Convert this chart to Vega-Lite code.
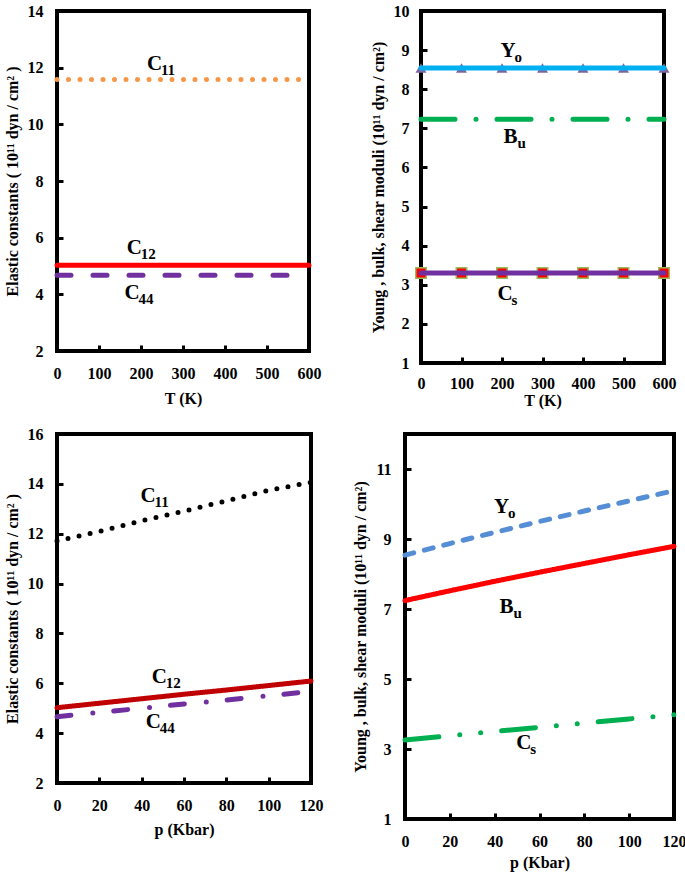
{
  "$schema": "https://vega.github.io/schema/vega-lite/v6.json",
  "padding": {"left": 2, "top": -5, "right": 2, "bottom": 0},
  "background": "white",
  "resolve": {"scale": {"x": "independent", "y": "independent", "color": "independent", "strokeDash": "independent"}, "axis": {"x": "independent", "y": "independent"}},
  "datasets": {
    "p1": [
      {"T": 0, "v": 11.58, "s": "C11"}, {"T": 100, "v": 11.58, "s": "C11"}, {"T": 200, "v": 11.58, "s": "C11"}, {"T": 300, "v": 11.58, "s": "C11"}, {"T": 400, "v": 11.58, "s": "C11"}, {"T": 500, "v": 11.58, "s": "C11"}, {"T": 600, "v": 11.58, "s": "C11"},
      {"T": 0, "v": 5.03, "s": "C12"}, {"T": 100, "v": 5.03, "s": "C12"}, {"T": 200, "v": 5.03, "s": "C12"}, {"T": 300, "v": 5.03, "s": "C12"}, {"T": 400, "v": 5.03, "s": "C12"}, {"T": 500, "v": 5.03, "s": "C12"}, {"T": 600, "v": 5.03, "s": "C12"},
      {"T": 0, "v": 4.67, "s": "C44"}, {"T": 100, "v": 4.67, "s": "C44"}, {"T": 200, "v": 4.67, "s": "C44"}, {"T": 300, "v": 4.67, "s": "C44"}, {"T": 400, "v": 4.67, "s": "C44"}, {"T": 500, "v": 4.67, "s": "C44"}, {"T": 600, "v": 4.67, "s": "C44"}
    ],
    "l1": [
      {"T": 214, "v": 11.92, "main": "C", "sub": "11"},
      {"T": 166, "v": 5.41, "main": "C", "sub": "12"},
      {"T": 161, "v": 3.82, "main": "C", "sub": "44"}
    ],
    "p2": [
      {"K": 0, "m": 8.54, "s": "Yo"}, {"K": 100, "m": 8.54, "s": "Yo"}, {"K": 200, "m": 8.54, "s": "Yo"}, {"K": 300, "m": 8.54, "s": "Yo"}, {"K": 400, "m": 8.54, "s": "Yo"}, {"K": 500, "m": 8.54, "s": "Yo"}, {"K": 600, "m": 8.54, "s": "Yo"},
      {"K": 0, "m": 7.23, "s": "Bu"}, {"K": 100, "m": 7.23, "s": "Bu"}, {"K": 200, "m": 7.23, "s": "Bu"}, {"K": 300, "m": 7.23, "s": "Bu"}, {"K": 400, "m": 7.23, "s": "Bu"}, {"K": 500, "m": 7.23, "s": "Bu"}, {"K": 600, "m": 7.23, "s": "Bu"},
      {"K": 0, "m": 3.3, "s": "Cs"}, {"K": 100, "m": 3.3, "s": "Cs"}, {"K": 200, "m": 3.3, "s": "Cs"}, {"K": 300, "m": 3.3, "s": "Cs"}, {"K": 400, "m": 3.3, "s": "Cs"}, {"K": 500, "m": 3.3, "s": "Cs"}, {"K": 600, "m": 3.3, "s": "Cs"}
    ],
    "l2": [
      {"K": 196, "m": 8.83, "main": "Y", "sub": "o"},
      {"K": 204, "m": 6.62, "main": "B", "sub": "u"},
      {"K": 189, "m": 2.6, "main": "C", "sub": "s"}
    ],
    "p3": [
      {"p": 0, "v": 11.71, "s": "C11"}, {"p": 20, "v": 12.09, "s": "C11"}, {"p": 40, "v": 12.52, "s": "C11"}, {"p": 60, "v": 12.9, "s": "C11"}, {"p": 80, "v": 13.32, "s": "C11"}, {"p": 100, "v": 13.74, "s": "C11"}, {"p": 120, "v": 14.06, "s": "C11"},
      {"p": 0, "v": 5.02, "s": "C12"}, {"p": 20, "v": 5.2, "s": "C12"}, {"p": 40, "v": 5.38, "s": "C12"}, {"p": 60, "v": 5.56, "s": "C12"}, {"p": 80, "v": 5.73, "s": "C12"}, {"p": 100, "v": 5.91, "s": "C12"}, {"p": 120, "v": 6.09, "s": "C12"},
      {"p": 0, "v": 4.66, "s": "C44"}, {"p": 20, "v": 4.83, "s": "C44"}, {"p": 40, "v": 5.0, "s": "C44"}, {"p": 60, "v": 5.17, "s": "C44"}, {"p": 80, "v": 5.33, "s": "C44"}, {"p": 100, "v": 5.5, "s": "C44"}, {"p": 120, "v": 5.67, "s": "C44"}
    ],
    "l3": [
      {"p": 39.5, "v": 13.29, "main": "C", "sub": "11"},
      {"p": 44.8, "v": 6.02, "main": "C", "sub": "12"},
      {"p": 41.9, "v": 4.22, "main": "C", "sub": "44"}
    ],
    "p4": [
      {"P": 0, "u": 8.54, "s": "Yo"}, {"P": 20, "u": 8.87, "s": "Yo"}, {"P": 40, "u": 9.19, "s": "Yo"}, {"P": 60, "u": 9.5, "s": "Yo"}, {"P": 80, "u": 9.8, "s": "Yo"}, {"P": 100, "u": 10.09, "s": "Yo"}, {"P": 120, "u": 10.38, "s": "Yo"},
      {"P": 0, "u": 7.24, "s": "Bu"}, {"P": 20, "u": 7.52, "s": "Bu"}, {"P": 40, "u": 7.79, "s": "Bu"}, {"P": 60, "u": 8.05, "s": "Bu"}, {"P": 80, "u": 8.3, "s": "Bu"}, {"P": 100, "u": 8.55, "s": "Bu"}, {"P": 120, "u": 8.79, "s": "Bu"},
      {"P": 0, "u": 3.26, "s": "Cs"}, {"P": 20, "u": 3.38, "s": "Cs"}, {"P": 40, "u": 3.5, "s": "Cs"}, {"P": 60, "u": 3.62, "s": "Cs"}, {"P": 80, "u": 3.74, "s": "Cs"}, {"P": 100, "u": 3.86, "s": "Cs"}, {"P": 120, "u": 3.98, "s": "Cs"}
    ],
    "l4": [
      {"P": 39.7, "u": 9.74, "main": "Y", "sub": "o"},
      {"P": 42.2, "u": 6.89, "main": "B", "sub": "u"},
      {"P": 49.6, "u": 2.99, "main": "C", "sub": "s"}
    ]
  },
  "vconcat": [
    {
      "resolve": {"scale": {"x": "independent", "y": "independent", "color": "independent", "strokeDash": "independent"}, "axis": {"x": "independent", "y": "independent"}},
      "hconcat": [
        {
          "width": 252, "height": 340,
          "title": {"text": " ", "fontSize": 4, "offset": 2},
          "layer": [
            {
              "data": {"name": "p1"},
              "mark": {"type": "line", "strokeCap": "round", "strokeWidth": 5},
              "encoding": {
                "x": {"field": "T", "type": "quantitative", "scale": {"domain": [0, 600], "nice": false}, "axis": {"values": [0, 100, 200, 300, 400, 500, 600], "title": "T (K)", "titlePadding": 9, "labelFlush": false, "labelOverlap": false}},
                "y": {"field": "v", "type": "quantitative", "scale": {"domain": [2, 14], "nice": false, "zero": false}, "axis": {"values": [2, 4, 6, 8, 10, 12, 14], "title": "Elastic constants ( 10¹¹ dyn / cm² )", "titlePadding": 7, "labelFlush": false, "labelOverlap": false}},
                "color": {"field": "s", "type": "nominal", "scale": {"domain": ["C11", "C12", "C44"], "range": ["#F79646", "#FF0000", "#7030A0"]}, "legend": null},
                "strokeDash": {"field": "s", "type": "nominal", "scale": {"domain": ["C11", "C12", "C44"], "range": [[0, 11.5], [1, 0], [14, 22]]}, "legend": null}
              }
            },
            {
              "data": {"name": "l1"},
              "mark": {"type": "text", "align": "left", "baseline": "alphabetic", "fontSize": 21, "fontWeight": "bold", "font": "Times New Roman, Liberation Serif, serif", "color": "black"},
              "encoding": {"x": {"field": "T", "type": "quantitative"}, "y": {"field": "v", "type": "quantitative"}, "text": {"field": "main"}}
            },
            {
              "data": {"name": "l1"},
              "mark": {"type": "text", "align": "left", "baseline": "alphabetic", "fontSize": 15, "fontWeight": "bold", "font": "Times New Roman, Liberation Serif, serif", "color": "black", "dx": 14, "dy": 5},
              "encoding": {"x": {"field": "T", "type": "quantitative"}, "y": {"field": "v", "type": "quantitative"}, "text": {"field": "sub"}}
            }
          ]
        },
        {
          "width": 243, "height": 352,
          "layer": [
            {
              "data": {"name": "p2"},
              "transform": [{"filter": "datum.s === 'Yo'"}],
              "mark": {"type": "point", "shape": "triangle-up", "filled": true, "size": 120, "color": "#8064A2", "opacity": 1},
              "encoding": {
                "x": {"field": "K", "type": "quantitative", "scale": {"domain": [0, 600], "nice": false}, "axis": {"values": [0, 100, 200, 300, 400, 500, 600], "title": "T (K)", "titlePadding": 1, "labelPadding": 18, "labelFlush": false, "labelOverlap": false}},
                "y": {"field": "m", "type": "quantitative", "scale": {"domain": [1, 10], "nice": false, "zero": false}, "axis": {"values": [1, 2, 3, 4, 5, 6, 7, 8, 9, 10], "tickCount": 10, "title": "Young , bulk, shear moduli (10¹¹ dyn / cm²)", "titlePadding": 7, "labelPadding": 18, "labelFlush": false, "labelOverlap": false}}
              }
            },
            {
              "data": {"name": "p2"},
              "transform": [{"filter": "datum.s === 'Cs'"}],
              "mark": {"type": "point", "shape": "square", "filled": true, "size": 110, "fill": "#FF0000", "stroke": "#9BBB59", "strokeWidth": 1.5, "opacity": 1},
              "encoding": {"x": {"field": "K", "type": "quantitative"}, "y": {"field": "m", "type": "quantitative"}}
            },
            {
              "data": {"name": "p2"},
              "mark": {"type": "line", "strokeCap": "round", "strokeWidth": 5},
              "encoding": {
                "x": {"field": "K", "type": "quantitative"},
                "y": {"field": "m", "type": "quantitative"},
                "color": {"field": "s", "type": "nominal", "scale": {"domain": ["Yo", "Bu", "Cs"], "range": ["#00B0F0", "#00B050", "#7030A0"]}, "legend": null},
                "strokeDash": {"field": "s", "type": "nominal", "scale": {"domain": ["Yo", "Bu", "Cs"], "range": [[1, 0], [34, 21, 0, 21], [1, 0]]}, "legend": null}
              }
            },
            {
              "data": {"name": "l2"},
              "mark": {"type": "text", "align": "left", "baseline": "alphabetic", "fontSize": 21, "fontWeight": "bold", "font": "Times New Roman, Liberation Serif, serif", "color": "black"},
              "encoding": {"x": {"field": "K", "type": "quantitative"}, "y": {"field": "m", "type": "quantitative"}, "text": {"field": "main"}}
            },
            {
              "data": {"name": "l2"},
              "mark": {"type": "text", "align": "left", "baseline": "alphabetic", "fontSize": 15, "fontWeight": "bold", "font": "Times New Roman, Liberation Serif, serif", "color": "black", "dx": 14, "dy": 5},
              "encoding": {"x": {"field": "K", "type": "quantitative"}, "y": {"field": "m", "type": "quantitative"}, "text": {"field": "sub"}}
            }
          ]
        }
      ],
      "spacing": 45
    },
    {
      "resolve": {"scale": {"x": "independent", "y": "independent", "color": "independent", "strokeDash": "independent"}, "axis": {"x": "independent", "y": "independent"}},
      "hconcat": [
        {
          "width": 254, "height": 349,
          "layer": [
            {
              "data": {"name": "p3"},
              "mark": {"type": "line", "strokeCap": "round", "strokeWidth": 5},
              "encoding": {
                "x": {"field": "p", "type": "quantitative", "scale": {"domain": [0, 120], "nice": false}, "axis": {"values": [0, 20, 40, 60, 80, 100, 120], "title": "p (Kbar)", "titlePadding": 8, "labelFlush": false, "labelOverlap": false}},
                "y": {"field": "v", "type": "quantitative", "scale": {"domain": [2, 16], "nice": false, "zero": false}, "axis": {"values": [2, 4, 6, 8, 10, 12, 14, 16], "title": "Elastic constants ( 10¹¹ dyn / cm² )", "titlePadding": 7, "labelFlush": false, "labelOverlap": false}},
                "color": {"field": "s", "type": "nominal", "scale": {"domain": ["C11", "C12", "C44"], "range": ["#000000", "#C00000", "#7030A0"]}, "legend": null},
                "strokeDash": {"field": "s", "type": "nominal", "scale": {"domain": ["C11", "C12", "C44"], "range": [[0, 11.3], [1, 0], [14, 22, 0, 21]]}, "legend": null}
              }
            },
            {
              "data": {"name": "l3"},
              "mark": {"type": "text", "align": "left", "baseline": "alphabetic", "fontSize": 21, "fontWeight": "bold", "font": "Times New Roman, Liberation Serif, serif", "color": "black"},
              "encoding": {"x": {"field": "p", "type": "quantitative"}, "y": {"field": "v", "type": "quantitative"}, "text": {"field": "main"}}
            },
            {
              "data": {"name": "l3"},
              "mark": {"type": "text", "align": "left", "baseline": "alphabetic", "fontSize": 15, "fontWeight": "bold", "font": "Times New Roman, Liberation Serif, serif", "color": "black", "dx": 14, "dy": 5},
              "encoding": {"x": {"field": "p", "type": "quantitative"}, "y": {"field": "v", "type": "quantitative"}, "text": {"field": "sub"}}
            }
          ]
        },
        {
          "width": 269, "height": 385,
          "title": {"text": " ", "fontSize": 10, "offset": 2},
          "layer": [
            {
              "data": {"name": "p4"},
              "mark": {"type": "line", "strokeCap": "round", "strokeWidth": 5},
              "encoding": {
                "x": {"field": "P", "type": "quantitative", "scale": {"domain": [0, 120], "nice": false}, "axis": {"values": [0, 20, 40, 60, 80, 100, 120], "title": "p (Kbar)", "titlePadding": 5, "labelFlush": false, "labelOverlap": false}},
                "y": {"field": "u", "type": "quantitative", "scale": {"domain": [1, 12], "nice": false, "zero": false}, "axis": {"values": [1, 3, 5, 7, 9, 11], "title": "Young , bulk, shear moduli (10¹¹ dyn / cm²)", "titlePadding": 7, "labelFlush": false, "labelOverlap": false}},
                "color": {"field": "s", "type": "nominal", "scale": {"domain": ["Yo", "Bu", "Cs"], "range": ["#558ED5", "#FF0000", "#00B050"]}, "legend": null},
                "strokeDash": {"field": "s", "type": "nominal", "scale": {"domain": ["Yo", "Bu", "Cs"], "range": [[9, 11], [1, 0], [34, 21, 0, 21, 0, 21]]}, "legend": null}
              }
            },
            {
              "data": {"name": "l4"},
              "mark": {"type": "text", "align": "left", "baseline": "alphabetic", "fontSize": 21, "fontWeight": "bold", "font": "Times New Roman, Liberation Serif, serif", "color": "black"},
              "encoding": {"x": {"field": "P", "type": "quantitative"}, "y": {"field": "u", "type": "quantitative"}, "text": {"field": "main"}}
            },
            {
              "data": {"name": "l4"},
              "mark": {"type": "text", "align": "left", "baseline": "alphabetic", "fontSize": 15, "fontWeight": "bold", "font": "Times New Roman, Liberation Serif, serif", "color": "black", "dx": 14, "dy": 5},
              "encoding": {"x": {"field": "P", "type": "quantitative"}, "y": {"field": "u", "type": "quantitative"}, "text": {"field": "sub"}}
            }
          ]
        }
      ],
      "spacing": 25
    }
  ],
  "spacing": 10,
  "config": {
    "font": "Times New Roman, Liberation Serif, serif",
    "view": {"stroke": "black", "strokeWidth": 4},
    "axis": {
      "domain": false, "grid": false, "labelOverlap": false, "labelFlush": false,
      "labelFont": "Times New Roman, Liberation Serif, serif", "labelFontWeight": "bold", "labelFontSize": 16, "labelColor": "black",
      "titleFont": "Times New Roman, Liberation Serif, serif", "titleFontWeight": "bold", "titleFontSize": 16, "titleColor": "black",
      "tickColor": "black", "tickWidth": 3, "tickSize": -6, "labelPadding": 20
    }
  }
}
